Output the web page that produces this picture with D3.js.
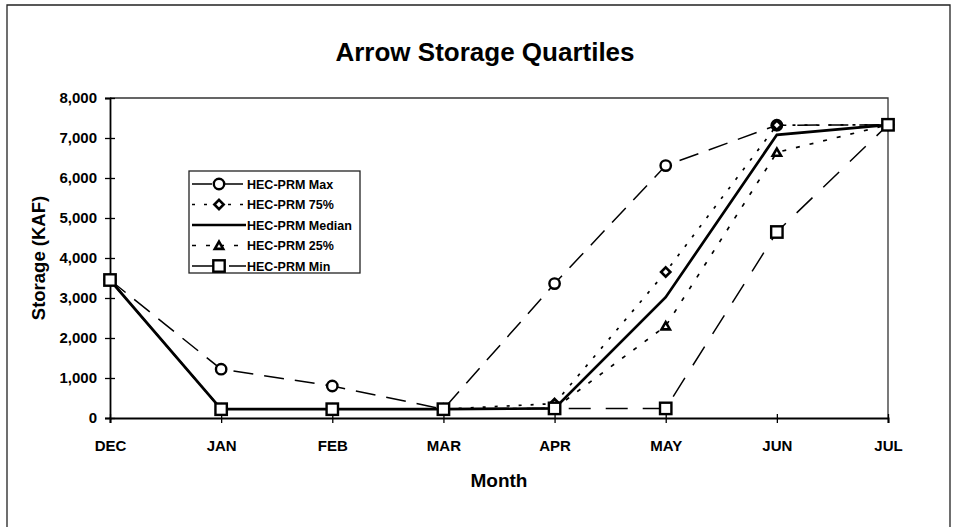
<!DOCTYPE html>
<html>
<head>
<meta charset="utf-8">
<script src="https://cdn.jsdelivr.net/npm/d3@7"></script>
<style>
body { margin: 0; background: #fff; }
text { font-family: "Liberation Sans", Arial, sans-serif; font-weight: bold; fill: #000; }
</style>
</head>
<body>
<div id="chart"></div>
<script>
// data
var months = ["DEC", "JAN", "FEB", "MAR", "APR", "MAY", "JUN", "JUL"];
var y_ticks = [0, 1000, 2000, 3000, 4000, 5000, 6000, 7000, 8000];
var max_vals    = [3450, 1220, 800, 220, 3360, 6310, 7320, 7330];
var p75_vals    = [3450, 220, 220, 220, 360, 3650, 7320, 7330];
var median_vals = [3450, 220, 220, 220, 240, 3020, 7080, 7330];
var p25_vals    = [3450, 220, 220, 220, 240, 2300, 6640, 7330];
var min_vals    = [3450, 220, 220, 220, 240, 240, 4650, 7330];

var series = [
	{name: "HEC-PRM Max", values: max_vals, dash: "20,11", width: 1.5, marker: "circle"},
	{name: "HEC-PRM 75%", values: p75_vals, dash: "3,9", width: 1.7, marker: "diamond"},
	{name: "HEC-PRM Median", values: median_vals, dash: null, width: 2.7, marker: null},
	{name: "HEC-PRM 25%", values: p25_vals, dash: "4,10", width: 1.7, marker: "triangle"},
	{name: "HEC-PRM Min", values: min_vals, dash: "22,15", width: 1.5, marker: "square"}
];

var W = 953, H = 527;
var plot = {left: 110, right: 888, top: 98, bottom: 418};

var svg = d3.select("#chart").append("svg")
	.attr("width", W).attr("height", H);

// outer frame
svg.append("path")
	.attr("d", "M7," + (H + 5) + "V5H950V" + (H + 5))
	.attr("fill", "none").attr("stroke", "#222").attr("stroke-width", 1.3);

var x = d3.scalePoint().domain(months).range([plot.left, plot.right]);
var y = d3.scaleLinear().domain([0, 8000]).range([plot.bottom, plot.top]);

// plot area border (top + right)
svg.append("path")
	.attr("d", "M" + plot.left + "," + plot.top + "H" + plot.right + "V" + plot.bottom)
	.attr("fill", "none").attr("stroke", "#333").attr("stroke-width", 1.3);

// Y axis
var yAxis = svg.append("g")
	.attr("transform", "translate(" + plot.left + ",0)")
	.call(d3.axisLeft(y).tickValues(y_ticks).tickSize(5).tickPadding(8)
		.tickFormat(d3.format(",")));
yAxis.select(".domain").attr("stroke", "#000").attr("stroke-width", 1.8);
yAxis.selectAll(".tick line").attr("x2", -5).attr("x1", 5).attr("stroke-width", 1.3);
yAxis.selectAll(".tick text").style("font-size", "15px").style("font-family", "Liberation Sans, Arial, sans-serif");

// X axis
var xAxis = svg.append("g")
	.attr("transform", "translate(0," + plot.bottom + ")")
	.call(d3.axisBottom(x).tickSize(5).tickPadding(17));
xAxis.select(".domain").attr("stroke", "#000").attr("stroke-width", 2);
xAxis.selectAll(".tick line").attr("y1", -4).attr("stroke-width", 1.3);
xAxis.selectAll(".tick text").style("font-size", "15px").style("font-family", "Liberation Sans, Arial, sans-serif");

// titles
svg.append("text").attr("x", 485).attr("y", 61).attr("text-anchor", "middle")
	.style("font-size", "26px").text("Arrow Storage Quartiles");
svg.append("text").attr("x", 499).attr("y", 487).attr("text-anchor", "middle")
	.style("font-size", "19px").text("Month");
svg.append("text")
	.attr("transform", "translate(45,258) rotate(-90)")
	.attr("text-anchor", "middle")
	.style("font-size", "18.5px").text("Storage (KAF)");

function draw_marker(g, type, cx, cy){
	if (type === "circle"){
		g.append("circle").attr("cx", cx).attr("cy", cy).attr("r", 5.2)
			.attr("fill", "#fff").attr("stroke", "#000").attr("stroke-width", 2.4);
	} else if (type === "square"){
		g.append("rect").attr("x", cx - 5.7).attr("y", cy - 5.7).attr("width", 11.4).attr("height", 11.4)
			.attr("fill", "#fff").attr("stroke", "#000").attr("stroke-width", 2.4);
	} else if (type === "diamond"){
		g.append("path").attr("d", d3.symbol().type(d3.symbolDiamond2).size(55)())
			.attr("transform", "translate(" + cx + "," + cy + ")")
			.attr("fill", "#fff").attr("stroke", "#000").attr("stroke-width", 2.6);
	} else if (type === "triangle"){
		g.append("path").attr("d", d3.symbol().type(d3.symbolTriangle2).size(50)())
			.attr("transform", "translate(" + cx + "," + (cy + 1) + ")")
			.attr("fill", "#fff").attr("stroke", "#000").attr("stroke-width", 2.6);
	}
}

var line = d3.line()
	.x(function(d, i) { return x(months[i]); })
	.y(function(d) { return y(d); });

// draw lines first, then the markers on top
var lines_g = svg.append("g");
series.forEach(function(s){
	lines_g.append("path")
		.datum(s.values)
		.attr("d", line)
		.attr("fill", "none")
		.attr("stroke", "#000")
		.attr("stroke-width", s.width)
		.attr("stroke-dasharray", s.dash);
});
var marks_g = svg.append("g");
series.forEach(function(s){
	if (!s.marker) return;
	s.values.forEach(function(v, i){
		draw_marker(marks_g, s.marker, x(months[i]), y(v));
	});
});

// legend
var leg = {x: 189, y: 171, w: 171, h: 102};
var lg = svg.append("g");
lg.append("rect").attr("x", leg.x).attr("y", leg.y).attr("width", leg.w).attr("height", leg.h)
	.attr("fill", "#fff").attr("stroke", "#222").attr("stroke-width", 1.3);
series.forEach(function(s, i){
	var ry = 184 + i * 20.5;
	lg.append("line").attr("x1", 192).attr("x2", 246).attr("y1", ry).attr("y2", ry)
		.attr("stroke", "#000").attr("stroke-width", s.width)
		.attr("stroke-dasharray", s.dash);
	if (s.marker) draw_marker(lg, s.marker, 219, ry);
	lg.append("text").attr("x", 247).attr("y", ry + 4.5)
		.style("font-size", "12.5px").text(s.name);
});
</script>
</body>
</html>
